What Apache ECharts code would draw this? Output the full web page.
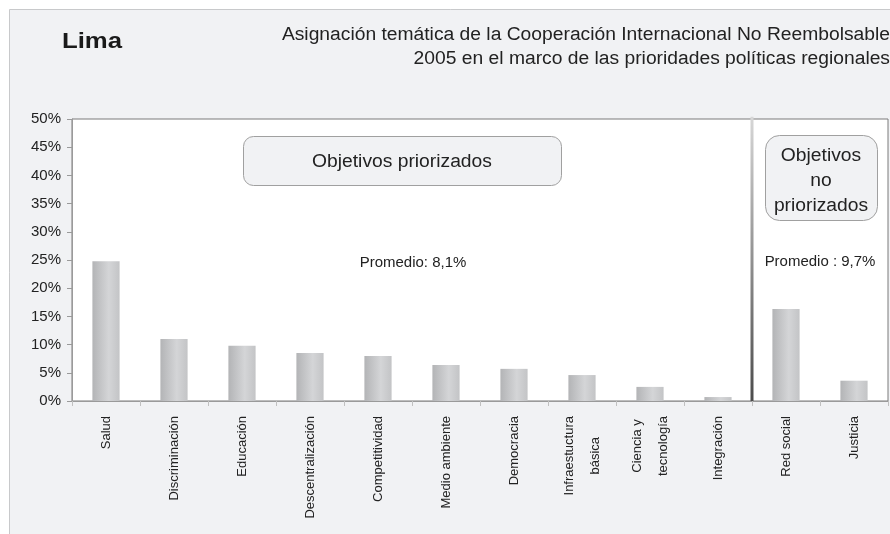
<!DOCTYPE html>
<html>
<head>
<meta charset="utf-8">
<script src="https://cdn.jsdelivr.net/npm/echarts@6/dist/echarts.min.js"></script>
<style>
  html, body { margin: 0; padding: 0; background: #fff; }
  #chart { width: 890px; height: 534px; }
</style>
</head>
<body>
<div id="chart"></div>
<script>
const categories = ['Salud', 'Discriminación', 'Educación', 'Descentralización', 'Competitividad',
  'Medio ambiente', 'Democracia', 'Infraestuctura\nbásica', 'Ciencia y\ntecnología', 'Integración',
  'Red social', 'Justicia'];
const shares = [24.8, 11.0, 9.8, 8.5, 8.0, 6.4, 5.7, 4.6, 2.5, 0.7, 16.3, 3.6];
// boundary between prioritized and non-prioritized groups (in category units)
const dividerAt = [[10, 0], [10, 50.4]];

const FONT = '"Liberation Sans", Arial, sans-serif';

const chart = echarts.init(document.getElementById('chart'));

const barColor = new echarts.graphic.LinearGradient(0, 0, 1, 0, [
  { offset: 0, color: '#b3b4b6' },
  { offset: 0.6, color: '#d4d5d7' },
  { offset: 1, color: '#c3c4c6' }
]);

// text in the source is drawn a little wide, so stretch the free labels
const wideText = (x, y, text, size, opts) => ({
  type: 'text', z: 11, x: x, y: y, scaleX: 1.07, originX: 0, originY: 0,
  style: Object.assign({ x: 0, y: 0, text: text, font: size + 'px ' + FONT, fill: '#222',
    align: 'center', verticalAlign: 'middle' }, opts || {})
});

chart.setOption({
  backgroundColor: '#fff',
  animation: false,
  textStyle: { fontFamily: FONT },
  grid: {
    left: 72, right: 2, top: 119, bottom: 133,
    show: true, backgroundColor: '#fff', borderColor: '#7a7a7a', borderWidth: 1
  },
  xAxis: [
    {
      type: 'category',
      data: categories,
      axisLine: { lineStyle: { color: '#9a9a9a' } },
      axisTick: { show: true, length: 5, lineStyle: { color: '#c0c0c0' } },
      axisLabel: {
        interval: 0, rotate: 90, margin: 15, color: '#222', fontSize: 13,
        formatter: v => v.split('\n').map(s => '{c|' + s + '}').join('\n'),
        rich: { c: { align: 'center', fontSize: 13, lineHeight: 26, color: '#222', fontFamily: FONT } }
      }
    },
    { type: 'value', min: 0, max: 12, show: false }
  ],
  yAxis: {
    type: 'value', min: 0, max: 50, interval: 5,
    axisLine: { show: true, lineStyle: { color: '#9a9a9a' } },
    axisTick: { show: true, length: 5, lineStyle: { color: '#9a9a9a' } },
    axisLabel: { formatter: '{value}%', color: '#222', fontSize: 15, margin: 11 },
    splitLine: { show: false }
  },
  series: [
    {
      type: 'bar',
      data: shares,
      barWidth: '40%',
      itemStyle: { color: barColor }
    },
    {
      type: 'line',
      xAxisIndex: 1,
      data: dividerAt,
      symbol: 'none',
      clip: false,
      lineStyle: {
        width: 3,
        color: new echarts.graphic.LinearGradient(0, 0, 0, 1, [
          { offset: 0, color: '#d8d8d8' },
          { offset: 1, color: '#4a4a4a' }
        ])
      },
      z: 5
    }
  ],
  graphic: [
    {
      type: 'rect', z: -10, silent: true,
      shape: { x: 9.5, y: 9.5, width: 900, height: 600 },
      style: { fill: '#f1f2f4', stroke: '#c8c9cb', lineWidth: 1 }
    },
    {
      type: 'text', z: 11, x: 62, y: 42, scaleX: 1.17, originX: 0, originY: 0,
      style: { x: 0, y: 0, text: 'Lima', font: '900 22px ' + FONT, fill: '#1a1a1a', align: 'left', verticalAlign: 'middle' }
    },
    wideText(890, 35, 'Asignación temática de la Cooperación Internacional No Reembolsable', 18, { align: 'right' }),
    wideText(890, 59, '2005 en el marco de las prioridades políticas regionales', 18, { align: 'right' }),
    {
      type: 'rect', z: 10,
      shape: { x: 243.5, y: 136.5, width: 318, height: 49, r: 10 },
      style: { fill: '#f1f2f4', stroke: '#a0a0a0', lineWidth: 1 }
    },
    wideText(402, 162, 'Objetivos priorizados', 18),
    {
      type: 'rect', z: 10,
      shape: { x: 765.5, y: 135.5, width: 112, height: 85, r: 14 },
      style: { fill: '#f1f2f4', stroke: '#a0a0a0', lineWidth: 1 }
    },
    wideText(821, 181, 'Objetivos\nno\npriorizados', 18, { lineHeight: 25 }),
    wideText(413, 263, 'Promedio: 8,1%', 14),
    wideText(820, 262, 'Promedio : 9,7%', 14)
  ]
});
</script>
</body>
</html>
